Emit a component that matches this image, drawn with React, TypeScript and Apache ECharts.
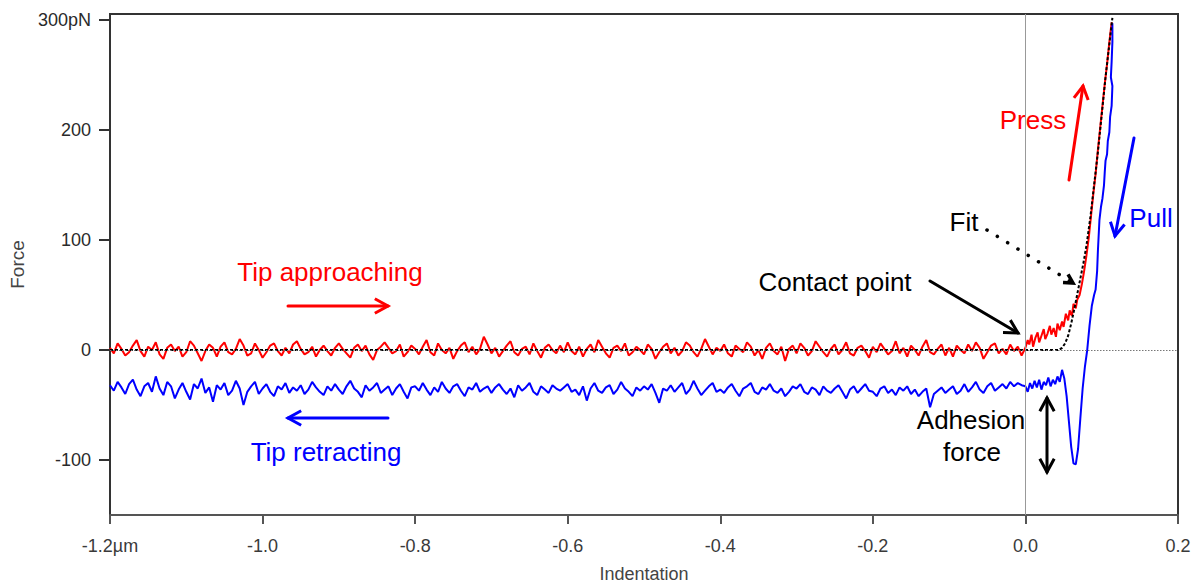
import React, { useEffect, useRef } from "react";
import * as echarts from "echarts";

// ---------- data ----------
const noiseStart = -1.2;
const noiseStep = 0.005;

// approach trace (red), baseline noise from -1.2 µm to 0
const approachNoise = [
  2, -3, 6, 1, -5, -2, 4, 9, -1, -6, 3, 0, 7, -4, -8, 2, 5, -1, 3, -6,
  -2, 8, 4, -3, -10, -1, 5, 2, -6, 3, 7, -2, -4, 1, 10, 4, -5, -3, 6, 0,
  -7, -2, 4, 6, -1, -5, 2, -3, 5, 8, 1, -4, -2, 3, -6, 0, 4, -1, -5, 2,
  6, 1, -3, -7, 2, 5, -1, 4, -4, -9, 0, 3, 7, 2, -3, -1, 5, -6, -2, 4,
  1, -4, 3, 9, -2, -5, 6, 0, -3, 2, -8, -1, 4, 7, -2, 3, -4, 1, 12, 5,
  -3, 2, -6, -1, 4, 8, -2, -5, 1, 3, -4, 6, -1, -7, 2, 5, 0, -3, 4, -2,
  7, -1, -4, 3, -6, 1, 5, -2, 9, 3, -3, -7, 2, 4, -1, 6, -5, -2, 3, 0,
  -4, 5, 1, -8, -2, 3, 6, -3, 2, -5, -1, 7, 4, -2, -6, 1, 10, 3, -4, 2,
  -1, 5, -3, -6, 4, 1, -2, 7, 3, -5, 0, -8, 2, 6, -1, -4, 3, -10, 1, 4,
  -3, 6, 2, -5, -1, 8, 3, -2, -6, 1, 5, -4, 0, 7, -3, -5, 2, 4, -1, -7,
  3, -2, 6, 1, -4, -1, 8, -3, 2, -6, 4, 0, -5, 3, 9, -2, -4, 1, 5, -5,
  2, -6, 4, 0, -3, 5, -1, 7, 2, -8, -2, 4, 6, -3, 1, -4, 5, -1, 3, -5,
];

// approach trace after contact: [indentation µm, force pN]
const approachContact: [number, number][] = [
  [0.0, 2], [0.003, 9], [0.005, 5], [0.008, 14], [0.01, 3], [0.013, 11],
  [0.016, 16], [0.018, 7], [0.021, 13], [0.024, 19], [0.026, 10], [0.029, 15],
  [0.032, 22], [0.034, 14], [0.037, 20], [0.04, 12], [0.042, 24], [0.045, 18],
  [0.048, 26], [0.05, 21], [0.053, 33], [0.056, 27], [0.058, 36], [0.061, 31],
  [0.063, 42], [0.066, 38], [0.068, 46], [0.071, 50], [0.074, 60], [0.077, 72],
  [0.08, 86], [0.083, 102], [0.086, 122], [0.089, 142], [0.092, 160], [0.095, 182],
  [0.098, 202], [0.101, 222], [0.104, 242], [0.107, 260], [0.11, 280], [0.113, 298],
];

// retract trace (blue), baseline noise from -1.2 µm to 0
const retractNoise = [
  -32, -37, -29, -34, -40, -31, -27, -36, -42, -33, -30, -38, -24, -35, -41, -29, -33, -44, -36, -30,
  -38, -45, -31, -35, -26, -39, -34, -47, -32, -36, -30, -41, -37, -28, -35, -50, -38, -33, -29, -40,
  -35, -31, -38, -42, -33, -36, -30, -39, -34, -37, -32, -40, -36, -29, -34, -38, -41, -33, -37, -31,
  -36, -40, -33, -28, -35, -38, -43, -32, -37, -34, -30, -39, -36, -33, -41, -35, -31, -38, -44, -34,
  -33, -37, -30, -36, -41, -34, -38, -29, -35, -39, -33, -31, -37, -42, -34, -36, -30, -38, -35, -33,
  -39, -34, -31, -36, -40, -35, -43, -32, -37, -34, -30, -38, -41, -33, -36, -39, -32, -35, -37, -34,
  -31, -38, -36, -41, -33, -46, -35, -30, -37, -39, -34, -32, -40, -36, -29, -35, -38, -42, -34, -37,
  -33, -36, -31, -39, -48, -35, -37, -32, -38, -34, -30, -40, -36, -28, -35, -41, -37, -33, -30, -38,
  -36, -39, -34, -31, -37, -42, -35, -33, -30, -38, -40, -34, -36, -31, -37, -39, -35, -42, -38, -33,
  -35, -31, -38, -40, -34, -36, -41, -33, -37, -39, -35, -32, -38, -44, -36, -33, -39, -35, -31, -37,
  -38, -42, -35, -33, -39, -36, -41, -34, -37, -33, -40, -36, -42, -38, -35, -52, -40, -37, -34, -39,
  -36, -33, -40, -37, -31, -38, -34, -29, -36, -39, -33, -30, -37, -34, -31, -35, -29, -33, -30, -32,
];

// retract trace after contact: [indentation µm, force pN]
const retractContact: [number, number][] = [
  [0.0, -33], [0.003, -38], [0.006, -30], [0.009, -35], [0.012, -28], [0.015, -34],
  [0.018, -27], [0.021, -36], [0.024, -29], [0.027, -32], [0.03, -25], [0.033, -33],
  [0.036, -27], [0.039, -31], [0.042, -24], [0.045, -29], [0.048, -18], [0.051, -26],
  [0.054, -42], [0.057, -65], [0.06, -88], [0.063, -103], [0.066, -104], [0.069, -90],
  [0.072, -62], [0.075, -35], [0.078, -15], [0.081, 0], [0.084, 22], [0.087, 40],
  [0.09, 50], [0.092, 55], [0.094, 72], [0.095, 90], [0.097, 118], [0.099, 130],
  [0.101, 138], [0.103, 150], [0.104, 162], [0.105, 172], [0.107, 178], [0.108, 190],
  [0.11, 198], [0.111, 212], [0.113, 222], [0.114, 240], [0.112, 248], [0.113, 262],
  [0.114, 280], [0.114, 297],
];

// fit curve (black dotted)
const fitCurve: [number, number][] = [
  [-1.2, 0], [0.044, 0], [0.048, 2], [0.052, 6], [0.056, 13], [0.06, 24],
  [0.064, 37], [0.068, 51], [0.072, 65], [0.076, 79], [0.08, 95], [0.085, 120],
  [0.09, 150], [0.095, 180], [0.1, 214], [0.105, 248], [0.11, 278], [0.114, 302],
];

const xTicks = [-1.2, -1.0, -0.8, -0.6, -0.4, -0.2, 0, 0.2];
const yTicks = [-100, 0, 100, 200, 300];

// ---------- helpers ----------
const FONT = '"Liberation Sans", Arial, Helvetica, sans-serif';

function noiseToPoints(vals: number[]): [number, number][] {
  return vals.map((v, i) => [Number((noiseStart + i * noiseStep).toFixed(4)), v]);
}

function head(x1: number, y1: number, x2: number, y2: number, L = 15, ang = 0.5) {
  const dx = x2 - x1;
  const dy = y2 - y1;
  const len = Math.hypot(dx, dy);
  const ux = dx / len;
  const uy = dy / len;
  const rot = (a: number) => [
    x2 - L * (ux * Math.cos(a) - uy * Math.sin(a)),
    y2 - L * (ux * Math.sin(a) + uy * Math.cos(a)),
  ];
  return [rot(ang), [x2, y2], rot(-ang)];
}

function arrow(
  x1: number, y1: number, x2: number, y2: number, color: string,
  opts: { width?: number; dash?: number[]; both?: boolean; L?: number } = {}
) {
  const w = opts.width ?? 3;
  const els: any[] = [
    {
      type: "line",
      shape: { x1, y1, x2, y2 },
      style: { stroke: color, lineWidth: w, lineDash: opts.dash, lineCap: "round" },
    },
    {
      type: "polyline",
      shape: { points: head(x1, y1, x2, y2, opts.L ?? 15) },
      style: { stroke: color, lineWidth: w, fill: null, lineJoin: "miter" },
    },
  ];
  if (opts.both) {
    els.push({
      type: "polyline",
      shape: { points: head(x2, y2, x1, y1, opts.L ?? 15) },
      style: { stroke: color, lineWidth: w, fill: null, lineJoin: "miter" },
    });
  }
  return els;
}

function label(text: string, x: number, y: number, color: string) {
  return {
    type: "text",
    x,
    y,
    style: {
      text,
      fill: color,
      fontSize: 26,
      fontFamily: FONT,
      align: "center",
      verticalAlign: "middle",
    },
  };
}

const RED = "#ff0000";
const BLUE = "#0000ff";

export default function App() {
  const ref = useRef<HTMLDivElement>(null);

  useEffect(() => {
    if (!ref.current) return;
    const chart = echarts.init(ref.current, undefined, { renderer: "svg" });

    const graphic: any[] = [
      label("Tip approaching", 330, 272, RED),
      ...arrow(288, 306, 388, 306, RED),
      ...arrow(388, 418, 288, 418, BLUE),
      label("Tip retracting", 326, 452, BLUE),
      label("Contact point", 835, 282, "#000"),
      ...arrow(930, 281, 1018, 333, "#000"),
      label("Fit", 964, 222, "#000"),
      ...arrow(987, 230, 1073, 283, "#000", { dash: [0.1, 12], width: 3.5, L: 10 }),
      label("Press", 1033, 120, RED),
      ...arrow(1069, 180, 1083, 86, RED),
      label("Pull", 1151, 218, BLUE),
      ...arrow(1134, 138, 1115, 236, BLUE),
      label("Adhesion", 971, 420, "#000"),
      label("force", 972, 452, "#000"),
      ...arrow(1047, 398, 1047, 472, "#000", { both: true }),
    ];

    chart.setOption({
      animation: false,
      backgroundColor: "#ffffff",
      textStyle: { fontFamily: FONT },
      grid: {
        left: 110,
        right: 21,
        top: 14,
        bottom: 70,
        containLabel: false,
        outerBoundsMode: "none",
        show: true,
        borderColor: "#333",
        borderWidth: 2,
        backgroundColor: "transparent",
      },
      xAxis: {
        type: "value",
        min: -1.2,
        max: 0.2,
        name: "Indentation",
        nameLocation: "middle",
        nameGap: 50,
        nameTextStyle: { fontSize: 18, color: "#444", fontFamily: FONT, lineHeight: 18 },
        axisLine: { show: true, onZero: false, lineStyle: { color: "#555", width: 2 } },
        axisTick: {
          show: true,
          inside: false,
          length: 9,
          customValues: xTicks,
          lineStyle: { color: "#555", width: 2 },
        },
        axisLabel: {
          customValues: xTicks,
          margin: 22,
          fontSize: 18,
          color: "#3a3a3a",
          fontFamily: FONT,
          formatter: (v: number) => (Math.abs(v + 1.2) < 1e-9 ? "-1.2µm" : v.toFixed(1)),
        },
        splitLine: { show: false },
      },
      yAxis: {
        type: "value",
        min: -150,
        max: 305.5,
        name: "Force",
        nameLocation: "middle",
        nameGap: 80,
        nameRotate: 90,
        nameTextStyle: { fontSize: 19, color: "#444", fontFamily: FONT },
        axisLine: { show: true, onZero: false, lineStyle: { color: "#333", width: 2 } },
        axisTick: {
          show: true,
          inside: false,
          length: 11,
          customValues: yTicks,
          lineStyle: { color: "#333", width: 2 },
        },
        axisLabel: {
          customValues: yTicks,
          margin: 19,
          fontSize: 18,
          color: "#2a2a2a",
          fontFamily: FONT,
          formatter: (v: number) => (v === 300 ? "300pN" : String(v)),
        },
        splitLine: { show: false },
      },
      series: [
        {
          name: "Tip approaching",
          type: "line",
          data: [...noiseToPoints(approachNoise), ...approachContact],
          showSymbol: false,
          symbol: "none",
          lineStyle: { color: RED, width: 2 },
          z: 3,
          markLine: {
            silent: true,
            symbol: "none",
            label: { show: false },
            data: [
              { xAxis: 0, lineStyle: { color: "#999", width: 1, type: "solid" } },
              { yAxis: 0, lineStyle: { color: "#777", width: 1, type: [1.5, 1.5] } },
            ],
          },
        },
        {
          name: "Tip retracting",
          type: "line",
          data: [...noiseToPoints(retractNoise), ...retractContact],
          showSymbol: false,
          symbol: "none",
          lineStyle: { color: BLUE, width: 2 },
          z: 3,
        },
        {
          name: "Fit",
          type: "line",
          data: fitCurve,
          showSymbol: false,
          symbol: "none",
          lineStyle: { color: "#000", width: 2, type: [3, 2] },
          z: 4,
        },
      ],
      graphic,
    });

    return () => chart.dispose();
  }, []);

  return (
    <div
      ref={ref}
      style={{ position: "fixed", left: 0, top: 0, width: 1199, height: 585, background: "#fff" }}
    />
  );
}
